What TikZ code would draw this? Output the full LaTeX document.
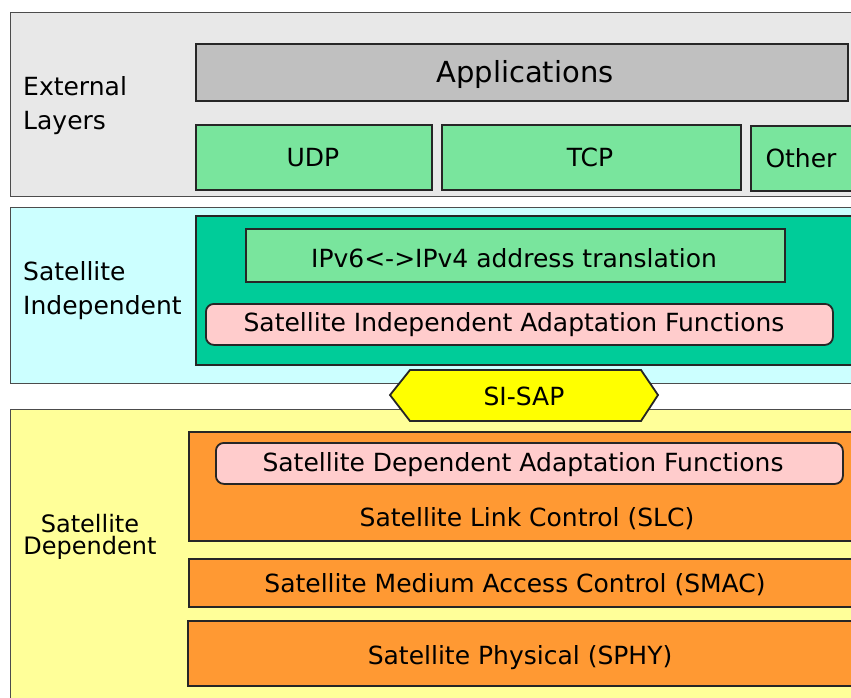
\documentclass[tikz,border=0pt]{standalone}
\usepackage{fontspec}
\setmainfont{DejaVu Sans}
\definecolor{extgray}{HTML}{E8E8E8}
\definecolor{appgray}{HTML}{C0C0C0}
\definecolor{lgreen}{HTML}{79E59D}
\definecolor{cyanband}{HTML}{CCFFFF}
\definecolor{dgreen}{HTML}{00CC99}
\definecolor{pinkbox}{HTML}{FFCCCC}
\definecolor{hexyellow}{HTML}{FFFF00}
\definecolor{yband}{HTML}{FFFF99}
\definecolor{orangebox}{HTML}{FF9933}
\tikzset{
  band/.style={draw=black!70, line width=1.3pt, anchor=north west, inner sep=0pt},
  box/.style={draw=black!85, line width=1.8pt, anchor=north west, inner sep=0pt},
  rbox/.style={box, rounded corners=8pt},
  txt/.style={font=\fontsize{25}{29}\selectfont, inner sep=0pt, yshift=-1.5pt},
  side/.style={inner sep=0pt, font=\fontsize{25}{34}\selectfont, align=left, anchor=west},
}
\begin{document}
\begin{tikzpicture}[x=1pt,y=-1pt]
\useasboundingbox (0,0) rectangle (851,697);
\clip (0,0) rectangle (851,697);
% External layers
\node[band, fill=extgray, minimum width=850, minimum height=184] (ext) at (10,12) {};
\node[box, fill=appgray, minimum width=652, minimum height=57] (apps) at (195,43) {};
\node[txt, font=\fontsize{29}{33}\selectfont] (appst) at (525,73) {Applications};
\node[box, fill=lgreen, minimum width=236, minimum height=65] (udp) at (195,124) {};
\node[txt] (udpt) at (313,156) {UDP};
\node[box, fill=lgreen, minimum width=299, minimum height=65] (tcp) at (441,124) {};
\node[txt] (tcpt) at (590,156) {TCP};
\node[box, fill=lgreen, minimum width=110, minimum height=65] (other) at (750,125) {};
\node[txt] (othert) at (801,157) {Other};
\node[side] (extl) at (23,106) {External\\Layers};
% Satellite independent
\node[band, fill=cyanband, minimum width=850, minimum height=176] (si) at (10,207) {};
\node[box, fill=dgreen, minimum width=665, minimum height=149] (sibox) at (195,215) {};
\node[box, fill=lgreen, minimum width=539, minimum height=53] (ipv) at (245,228) {};
\node[txt] (ipvt) at (514,257) {IPv6<->IPv4 address translation};
\node[rbox, fill=pinkbox, minimum width=627, minimum height=41] (siaf) at (205,303) {};
\node[txt] (siaft) at (514,323) {Satellite Independent Adaptation Functions};
\node[side] (sil) at (23,291) {Satellite\\Independent};
% Satellite dependent
\node[band, fill=yband, minimum width=850, minimum height=300] (sd) at (10,409) {};
\node[box, fill=orangebox, minimum width=672, minimum height=109] (slc) at (188,431) {};
\node[rbox, fill=pinkbox, minimum width=627, minimum height=41] (sdaf) at (215,442) {};
\node[txt] (sdaft) at (523,463) {Satellite Dependent Adaptation Functions};
\node[txt] (slct) at (527,517) {Satellite Link Control (SLC)};
\node[box, fill=orangebox, minimum width=672, minimum height=48] (smac) at (188,558) {};
\node[txt] (smact) at (515,583) {Satellite Medium Access Control (SMAC)};
\node[box, fill=orangebox, minimum width=673, minimum height=65] (sphy) at (187,620) {};
\node[txt] (sphyt) at (520,656) {Satellite Physical (SPHY)};
\node[side, align=center, anchor=center, font=\fontsize{24}{22}\selectfont] (sdl) at (90,537) {Satellite\\Dependent};
% SI-SAP
\draw[box, fill=hexyellow] (390,395) -- (410,370) -- (641,370) -- (658,395) -- (641,421) -- (410,421) -- cycle;
\node[txt] (sisap) at (524,395) {SI-SAP};
\end{tikzpicture}
\end{document}
